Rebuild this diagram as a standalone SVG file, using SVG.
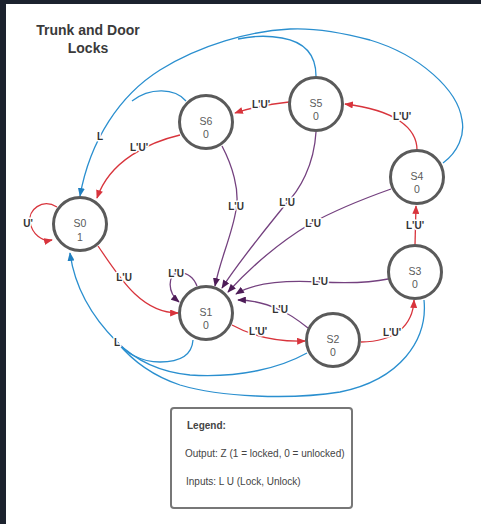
<svg xmlns="http://www.w3.org/2000/svg" width="481" height="524" viewBox="0 0 481 524">
  <style>
    .state circle { fill: #ffffff; stroke: #5a5a5a; stroke-width: 3; }
    .state text { font-family: "Liberation Sans", Arial, sans-serif; font-size: 10.5px; fill: #5a5a5a; text-anchor: middle; }
    .edge { fill: none; stroke-width: 1.3; }
    .red { stroke: #d8343c; }
    .purple { stroke: #74417f; }
    .blue { stroke: #2a8fcf; }
    .lbl { font-family: "Liberation Sans", Arial, sans-serif; font-size: 10px; font-weight: bold; fill: #333333; text-anchor: middle; stroke: #ffffff; stroke-width: 3; paint-order: stroke; stroke-linejoin: round; }
    .title { font-family: "Liberation Sans", Arial, sans-serif; font-size: 14px; font-weight: bold; fill: #3a3a3a; text-anchor: middle; }
    .legend text { font-family: "Liberation Sans", Arial, sans-serif; font-size: 10px; fill: #444444; }
  </style>
  <defs>
    <marker id="arrRed" viewBox="0 0 10 8" refX="9" refY="4" markerWidth="9" markerHeight="7" markerUnits="userSpaceOnUse" orient="auto">
      <path d="M0,0 L10,4 L0,8 z" fill="#d8343c"/>
    </marker>
    <marker id="arrPurple" viewBox="0 0 10 8" refX="9" refY="4" markerWidth="9" markerHeight="7" markerUnits="userSpaceOnUse" orient="auto">
      <path d="M0,0 L10,4 L0,8 z" fill="#4d1c57"/>
    </marker>
    <marker id="arrBlue" viewBox="0 0 10 8" refX="9" refY="4" markerWidth="9" markerHeight="7" markerUnits="userSpaceOnUse" orient="auto">
      <path d="M0,0 L10,4 L0,8 z" fill="#1f7fc0"/>
    </marker>
  </defs>

  <!-- page background and dark window edge -->
  <rect x="0" y="0" width="481" height="524" fill="#ffffff"/>
  <rect x="0" y="0" width="481" height="4" fill="#1c222e"/>
  <rect x="0" y="0" width="6" height="524" fill="#1c222e"/>

  <text class="title" x="88" y="35">Trunk and Door</text>
  <text class="title" x="88" y="53">Locks</text>

  <g id="connectors">
    <!-- L: back to S0 from above -->
    <path class="edge blue" d="M443,163 C458,152 465,135 462,120 C458,90 420,55 370,40 C340,32 310,28 290,29 C250,31 200,45 160,70 C120,95 90,140 80,196" marker-end="url(#arrBlue)"/>
    <path class="edge blue" d="M316,76 C316,55 305,42 282,38 C266,35 252,36 238,39"/>
    <path class="edge blue" d="M186,101 C175,88 150,87 132,101"/>
    <!-- L: back to S0 from below -->
    <path class="edge blue" d="M117,342 C95,320 75,290 70,253" marker-end="url(#arrBlue)"/>
    <path class="edge blue" d="M193,340 C192,355 180,362 160,362 C140,362 125,352 117,342"/>
    <path class="edge blue" d="M307,353 C280,368 240,378 190,375 C160,372 135,360 117,342"/>
    <path class="edge blue" d="M424,300 C428,340 400,380 340,392 C290,400 220,397 180,385 C150,375 130,358 117,342"/>

    <!-- L'U': advance through the sequence -->
    <path class="edge red" d="M57,207 C42,198 28,210 30,222 C32,234 42,242 52,240" marker-end="url(#arrRed)"/>
    <path class="edge red" d="M98,246 C118,275 140,313 178,313" marker-end="url(#arrRed)"/>
    <path class="edge red" d="M180,135 C150,142 110,160 97,198" marker-end="url(#arrRed)"/>
    <path class="edge red" d="M289,102 C270,104 250,108 235,113" marker-end="url(#arrRed)"/>
    <path class="edge red" d="M417,150 C417,128 395,110 345,104" marker-end="url(#arrRed)"/>
    <path class="edge red" d="M415,245 L416,206" marker-end="url(#arrRed)"/>
    <path class="edge red" d="M361,342 C395,342 413,325 414,300" marker-end="url(#arrRed)"/>
    <path class="edge red" d="M232,325 C250,335 275,342 305,341" marker-end="url(#arrRed)"/>

    <!-- L'U: unlock, all into S1 -->
    <path class="edge purple" d="M197,286 C193,276 186,272 177,273 C168,275 167,292 179,302" marker-end="url(#arrPurple)"/>
    <path class="edge purple" d="M222,146 C232,165 240,190 236,210 C232,235 220,260 215,286" marker-end="url(#arrPurple)"/>
    <path class="edge purple" d="M316,132 C314,165 300,190 285,205 C265,230 240,260 222,288" marker-end="url(#arrPurple)"/>
    <path class="edge purple" d="M391,189 C360,200 330,213 310,224 C280,242 250,268 228,292" marker-end="url(#arrPurple)"/>
    <path class="edge purple" d="M388,279 C365,284 340,283 320,282 C285,280 255,282 236,294" marker-end="url(#arrPurple)"/>
    <path class="edge purple" d="M308,328 C298,320 290,314 280,310 C265,303 252,300 238,300" marker-end="url(#arrPurple)"/>

    <!-- edge labels -->
    <text class="lbl" x="100" y="140">L</text>
    <text class="lbl" x="117" y="346">L</text>
    <text class="lbl" x="28" y="227">U'</text>
    <text class="lbl" x="124" y="281">L'U</text>
    <text class="lbl" x="139" y="151">L'U'</text>
    <text class="lbl" x="261" y="108">L'U'</text>
    <text class="lbl" x="402" y="120">L'U'</text>
    <text class="lbl" x="415" y="229">L'U'</text>
    <text class="lbl" x="392" y="336">L'U'</text>
    <text class="lbl" x="258" y="335">L'U'</text>
    <text class="lbl" x="176" y="277">L'U</text>
    <text class="lbl" x="236" y="210">L'U</text>
    <text class="lbl" x="287" y="206">L'U</text>
    <text class="lbl" x="313" y="227">L'U</text>
    <text class="lbl" x="320" y="285">L'U</text>
    <text class="lbl" x="280" y="313">L'U</text>
  </g>

  <g id="S0" class="state">
    <circle cx="80" cy="224" r="26.5"/>
    <text x="80" y="227">S0</text>
    <text x="80" y="241">1</text>
  </g>
  <g id="S1" class="state">
    <circle cx="206" cy="313" r="26.5"/>
    <text x="206" y="316">S1</text>
    <text x="206" y="329">0</text>
  </g>
  <g id="S2" class="state">
    <circle cx="333" cy="340" r="26.5"/>
    <text x="333" y="343">S2</text>
    <text x="333" y="356">0</text>
  </g>
  <g id="S3" class="state">
    <circle cx="415" cy="272" r="26.5"/>
    <text x="415" y="275">S3</text>
    <text x="415" y="288">0</text>
  </g>
  <g id="S4" class="state">
    <circle cx="417" cy="177" r="26.5"/>
    <text x="417" y="180">S4</text>
    <text x="417" y="193">0</text>
  </g>
  <g id="S5" class="state">
    <circle cx="316" cy="104" r="26.5"/>
    <text x="316" y="107">S5</text>
    <text x="316" y="120">0</text>
  </g>
  <g id="S6" class="state">
    <circle cx="206" cy="122" r="26.5"/>
    <text x="206" y="125">S6</text>
    <text x="206" y="138">0</text>
  </g>

  <g id="legend" class="legend">
    <rect x="171" y="408" width="181" height="100" rx="3" fill="#ffffff" stroke="#777777" stroke-width="2"/>
    <text x="187" y="429" font-weight="bold" fill="#333333">Legend:</text>
    <text x="185" y="457">Output: Z (1 = locked, 0 = unlocked)</text>
    <text x="186" y="485">Inputs: L U (Lock, Unlock)</text>
  </g>
</svg>
